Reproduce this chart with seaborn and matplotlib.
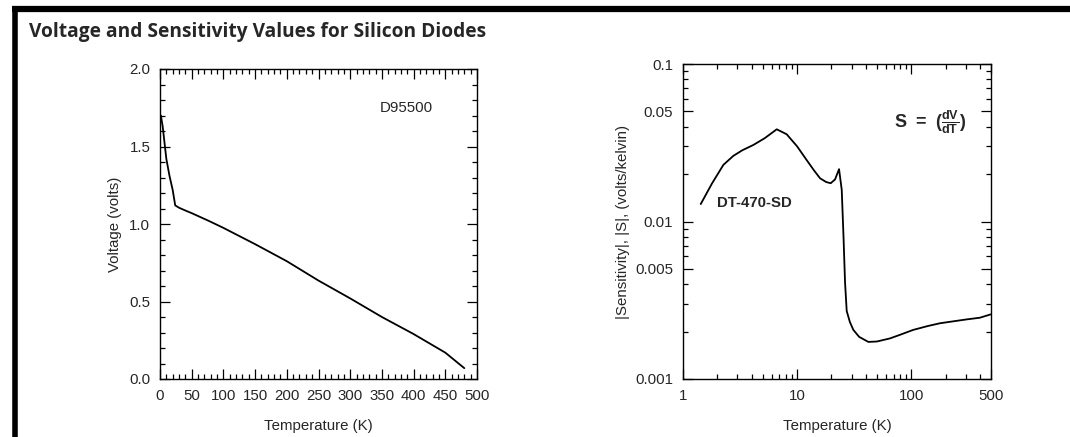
import numpy as np
import pandas as pd
import matplotlib
matplotlib.use("Agg")
import matplotlib.pyplot as plt
import matplotlib.ticker as mticker
from matplotlib.lines import Line2D
import seaborn as sns

# ---- data ----
volt_temp = [1.4, 4.2, 10, 15, 20, 24, 30, 40, 50, 77, 100, 150, 200, 250, 300, 350, 400, 450, 480]
volt_val = [1.70, 1.63, 1.42, 1.31, 1.22, 1.12, 1.105, 1.087, 1.07, 1.02, 0.975, 0.87, 0.76,
            0.635, 0.52, 0.40, 0.29, 0.17, 0.07]

sens_temp = [1.43, 1.8, 2.26, 2.76, 3.3, 4.13, 5.2, 6.63, 8.1, 10, 12.1, 14, 15.9, 18, 19.7,
             21.5, 23.3, 24.6, 25.5, 26.3, 27.2, 29, 31.1, 35, 42.1, 50, 65.1, 80, 104, 140,
             179, 240, 306, 400, 495]
sens_val = [0.0129, 0.0175, 0.0229, 0.0261, 0.0283, 0.0306, 0.0338, 0.0385, 0.0358, 0.0300,
            0.0246, 0.0212, 0.0188, 0.0178, 0.0175, 0.0185, 0.0215, 0.0159, 0.0080, 0.0041,
            0.0027, 0.0023, 0.00205, 0.00185, 0.00172, 0.00173, 0.00181, 0.00191, 0.00205,
            0.00217, 0.00226, 0.00233, 0.00239, 0.00245, 0.00257]

title = "Voltage and Sensitivity Values for Silicon Diodes"

sns.set_style("ticks")
plt.rcParams['font.family'] = ['Liberation Sans', 'DejaVu Sans']
plt.rcParams['mathtext.fontset'] = 'custom'
plt.rcParams['mathtext.rm'] = 'Liberation Sans'
plt.rcParams['mathtext.bf'] = 'Liberation Sans:bold'
plt.rcParams['axes.linewidth'] = 1.0

fig = plt.figure(figsize=(10.70, 4.37), dpi=100)
W, H = 1070, 437

def ax_rect(x0, y0, x1, y1):
    return [x0 / W, 1 - y1 / H, (x1 - x0) / W, (y1 - y0) / H]

ax1 = fig.add_axes(ax_rect(160, 69, 477, 379))
ax2 = fig.add_axes(ax_rect(683, 64, 991, 379))

df1 = pd.DataFrame({"T": volt_temp, "V": volt_val})
df2 = pd.DataFrame({"T": sens_temp, "S": sens_val})

sns.lineplot(data=df1, x="T", y="V", ax=ax1, color="black", lw=1.3, sort=False)
sns.lineplot(data=df2, x="T", y="S", ax=ax2, color="black", lw=1.3, sort=False)

fs = 10.8
# left axes
ax1.set_xlim(0, 500)
ax1.set_ylim(0, 2.0)
ax1.xaxis.set_major_locator(mticker.MultipleLocator(50))
ax1.xaxis.set_minor_locator(mticker.MultipleLocator(10))
ax1.yaxis.set_major_locator(mticker.MultipleLocator(0.5))
ax1.yaxis.set_minor_locator(mticker.MultipleLocator(0.1))
ax1.yaxis.set_major_formatter(mticker.FormatStrFormatter('%.1f'))
ax1.set_xlabel("Temperature (K)", fontsize=fs, labelpad=12)
ax1.set_ylabel("Voltage (volts)", fontsize=fs, labelpad=5)
ax1.text(347, 1.75, "D95500", fontsize=fs, va="center", ha="left")

# right axes
ax2.set_xscale("log")
ax2.set_yscale("log")
ax2.set_xlim(1, 500)
ax2.set_ylim(0.001, 0.1)
ax2.set_xticks([1, 10, 100, 500])
ax2.set_xticklabels(["1", "10", "100", "500"])
ax2.xaxis.set_minor_locator(mticker.FixedLocator(
    [2, 3, 4, 5, 6, 7, 8, 9, 20, 30, 40, 50, 60, 70, 80, 90, 200, 300, 400]))
ax2.xaxis.set_minor_formatter(mticker.NullFormatter())
ax2.set_yticks([0.001, 0.005, 0.01, 0.05, 0.1])
ax2.set_yticklabels(["0.001", "0.005", "0.01", "0.05", "0.1"])
ax2.yaxis.set_minor_locator(mticker.FixedLocator(
    [0.002, 0.003, 0.004, 0.006, 0.007, 0.008, 0.009, 0.02, 0.03, 0.04, 0.06, 0.07, 0.08, 0.09]))
ax2.yaxis.set_minor_formatter(mticker.NullFormatter())
ax2.set_xlabel("Temperature (K)", fontsize=fs, labelpad=12)
ax2.set_ylabel("|Sensitivity|, |S|, (volts/kelvin)", fontsize=fs, labelpad=4)
ax2.text(2.0, 0.0131, "DT-470-SD", fontsize=fs, fontweight="bold", va="center", ha="left")
ax2.text(70, 0.043, r"$\mathbf{S\ =\ (\frac{dV}{dT})}$", fontsize=13, va="center", ha="left")

for ax in (ax1, ax2):
    ax.tick_params(which="both", direction="in", top=True, right=True, labelsize=fs,
                   color="black", width=0.9)
    ax.tick_params(which="major", length=7, pad=7)
    ax.tick_params(which="minor", length=3.5)
    for s in ax.spines.values():
        s.set_color("black")

# frame lines
fig.add_artist(Line2D([12 / W, 1], [1 - 9 / H, 1 - 9 / H], color="black", lw=4.5,
                      solid_capstyle="butt", transform=fig.transFigure))
fig.add_artist(Line2D([14.5 / W, 14.5 / W], [0, 1 - 6 / H], color="black", lw=4,
                      solid_capstyle="butt", transform=fig.transFigure))

fig.text(29 / W, 1 - 32 / H, title, fontsize=13.8, fontweight="bold", family="Open Sans",
         va="center", ha="left")

fig.savefig("out.png", dpi=100)
